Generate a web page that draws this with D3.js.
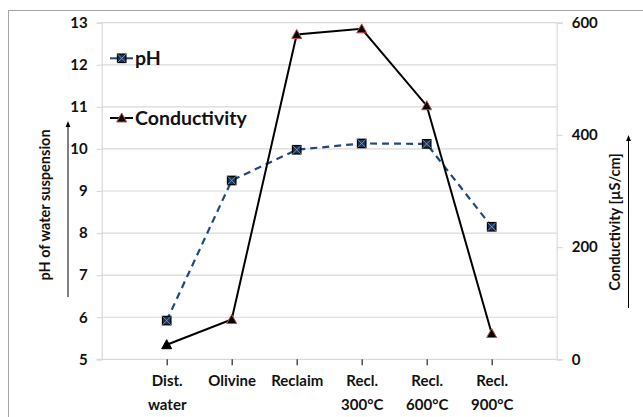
<!DOCTYPE html>
<html><head><meta charset="utf-8">
<script src="https://cdn.jsdelivr.net/npm/d3@7"></script>
<style>body{margin:0;background:#fff}svg{display:block}text{font-family:Lato,"Open Sans",sans-serif;font-weight:bold;fill:#111}</style>
</head><body><svg id="c" width="643" height="417"></svg>
<script>
const categories = [["Dist.","water"],["Olivine"],["Reclaim"],["Recl.","300°C"],["Recl.","600°C"],["Recl.","900°C"]];
const phValues = [5.92, 9.25, 9.98, 10.13, 10.12, 8.15];
const condValues = [26, 71, 579, 589, 452, 46];
const phTicks = [5,6,7,8,9,10,11,12,13];
const condTicks = [0,200,400,600];

const svg = d3.select("#c");
const L=101.7, R=556.7, T=22.7, B=359.3;
svg.append("rect").attr("x",8.5).attr("y",10.5).attr("width",650).attr("height",420).attr("fill","none").attr("stroke","#a6a6a6").attr("stroke-width",1);

const keys = categories.map((d,i)=>i);
const x = d3.scalePoint().domain(keys).range([L,R]).padding(1);
const yL = d3.scaleLinear().domain([5,13]).range([B,T]);
const yR = d3.scaleLinear().domain([0,600]).range([B,T]);

// gridlines
svg.append("g").selectAll("line").data(phTicks.filter(d=>d>5)).join("line")
  .attr("x1",L).attr("x2",R).attr("y1",d=>yL(d)).attr("y2",d=>yL(d))
  .attr("stroke","#d9d9d9").attr("stroke-width",1.2);

// left axis
const gL = svg.append("g").attr("transform",`translate(${L},0)`).call(d3.axisLeft(yL).tickValues(phTicks).tickSize(5).tickPadding(9).tickFormat(d3.format("d")));
gL.select(".domain").attr("stroke","#d9d9d9").attr("stroke-width",1.2);
gL.selectAll(".tick line").attr("stroke","#d9d9d9").attr("stroke-width",1.2);
gL.selectAll(".tick text").style("font-size","15px").attr("fill","#111");

// right axis
const gR = svg.append("g").attr("transform",`translate(${R},0)`).call(d3.axisRight(yR).tickValues(condTicks).tickSize(6).tickPadding(9));
gR.select(".domain").attr("stroke","#d9d9d9").attr("stroke-width",1.2);
gR.selectAll(".tick line").attr("stroke","#d9d9d9").attr("stroke-width",1.2);
gR.selectAll(".tick text").style("font-size","15px").attr("fill","#111");

// bottom axis
svg.append("line").attr("x1",L-5).attr("x2",R).attr("y1",B).attr("y2",B).attr("stroke","#d9d9d9").attr("stroke-width",1.2);
const gB = svg.append("g").attr("transform",`translate(0,${B})`).call(d3.axisBottom(x).tickSize(6).tickFormat(""));
gB.select(".domain").remove();
gB.selectAll(".tick line").attr("stroke","#333").attr("stroke-width",1.3);
gB.selectAll(".tick").each(function(i){
  const t = d3.select(this).append("text").attr("text-anchor","middle").style("font-size","15px").attr("fill","#111");
  categories[i].forEach((s,j)=>t.append("tspan").attr("x",0).attr("y",27+j*24).text(s));
});

// lines
const phLine = d3.line().x((d,i)=>x(i)).y(d=>yL(d));
const condLine = d3.line().x((d,i)=>x(i)).y(d=>yR(d));
svg.append("path").datum(phValues).attr("d",phLine).attr("fill","none").attr("stroke","#1f497d").attr("stroke-width",2.2).attr("stroke-dasharray","7,5");
svg.append("path").datum(condValues).attr("d",condLine).attr("fill","none").attr("stroke","#000").attr("stroke-width",2);

function square(g,cx,cy){
  const s=4.2;
  g.append("rect").attr("x",cx-s).attr("y",cy-s).attr("width",2*s).attr("height",2*s).attr("fill","#17365d").attr("stroke","#000").attr("stroke-width",1.3);
  g.append("path").attr("d",`M${cx-s},${cy-s}L${cx+s},${cy+s}M${cx+s},${cy-s}L${cx-s},${cy+s}`).attr("stroke","#8fa5c0").attr("stroke-width",0.8);
}
function tri(g,cx,cy,edge){
  const s=5;
  g.append("path").attr("d",`M${cx},${cy-s}L${cx+s},${cy+s*0.8}L${cx-s},${cy+s*0.8}Z`).attr("fill","#000").attr("stroke",edge).attr("stroke-width",1);
}
const gm = svg.append("g");
phValues.forEach((d,i)=>square(gm,x(i),yL(d)));
condValues.forEach((d,i)=>tri(gm,x(i),yR(d),i===0?"#000":"#c0504d"));

// legend
const lg = svg.append("g");
lg.append("line").attr("x1",110).attr("x2",133).attr("y1",58.3).attr("y2",58.3).attr("stroke","#1f497d").attr("stroke-width",2);
square(lg,121.7,58.3);
lg.append("text").attr("x",135).attr("y",65).style("font-size","19.5px").text("pH");
lg.append("line").attr("x1",110).attr("x2",133).attr("y1",118).attr("y2",118).attr("stroke","#000").attr("stroke-width",2);
tri(lg,121.7,118,"#c0504d");
lg.append("text").attr("x",135).attr("y",124.5).style("font-size","19.5px").text("Conductivity");

// axis titles with arrows
svg.append("text").attr("transform","translate(50,205) rotate(-90)").attr("text-anchor","middle").style("font-size","14.5px").text("pH of water suspension");
svg.append("defs").append("marker").attr("id","ah").attr("viewBox","0 0 10 10").attr("refX",5).attr("refY",5).attr("markerWidth",6).attr("markerHeight",6).attr("orient","auto")
  .append("path").attr("d","M0,1L10,5L0,9Z").attr("fill","#000");
svg.append("line").attr("x1",68).attr("x2",68).attr("y1",297).attr("y2",124).attr("stroke","#000").attr("stroke-width",1).attr("marker-end","url(#ah)");
svg.append("text").attr("transform","translate(620,222) rotate(-90)").attr("text-anchor","middle").style("font-size","14.5px").text("Conductivity  [µS/cm]");
svg.append("line").attr("x1",628.5).attr("x2",628.5).attr("y1",308).attr("y2",138).attr("stroke","#000").attr("stroke-width",1).attr("marker-end","url(#ah)");
</script></body></html>
